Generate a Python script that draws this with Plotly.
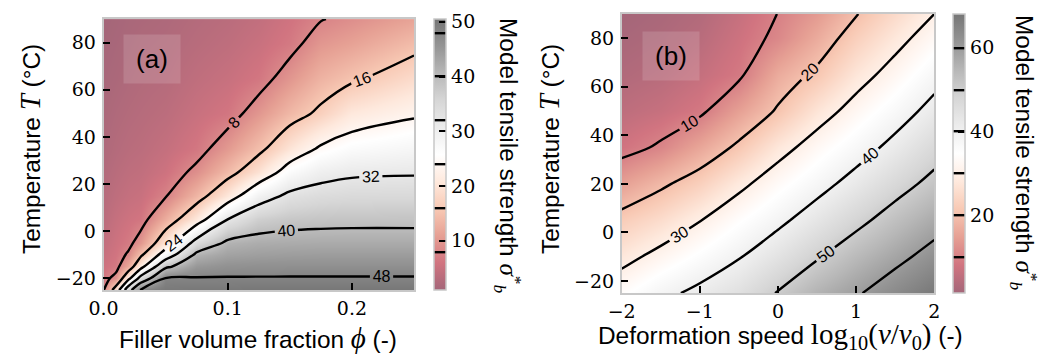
import plotly.graph_objects as go

W, H = 1042, 356

# ---------------- Panel (a): strength vs filler fraction and temperature
phi = [0, 0.01, 0.02, 0.03, 0.05, 0.075, 0.1, 0.125, 0.15, 0.175, 0.2, 0.25]
temp_a = [-25, -20, -15, -10, -5, 5, 15, 25, 35, 50, 65, 80, 90]
sigma_a = [
    [7.7, 19.5, 37.0, 48.5, 50.0, 50.1, 50.2, 50.3, 50.3, 50.3, 50.3, 50.4],
    [6.6, 9.3, 22.0, 34.7, 48.2, 48.3, 48.3, 48.3, 48.3, 48.3, 48.3, 48.3],
    [5.5, 6.6, 12.0, 21.6, 38.7, 45.0, 46.0, 46.2, 46.3, 46.3, 46.3, 46.3],
    [4.9, 6.0, 8.6, 14.9, 27.6, 41.4, 43.6, 44.1, 44.3, 44.4, 44.4, 44.4],
    [4.3, 5.5, 6.8, 10.0, 20.3, 34.7, 41.2, 42.1, 42.3, 42.4, 42.4, 42.4],
    [3.5, 4.7, 5.6, 6.2, 12.6, 20.8, 32.0, 36.7, 38.0, 38.4, 38.6, 38.6],
    [3.0, 3.9, 4.6, 5.0, 7.7, 13.6, 20.7, 29.2, 33.2, 34.4, 34.9, 35.0],
    [2.6, 3.3, 3.9, 4.2, 5.6, 9.1, 14.1, 19.75, 26.8, 29.9, 31.1, 31.5],
    [2.2, 2.8, 3.3, 3.6, 4.6, 6.4, 10.3, 14.7, 20.2, 24.8, 26.9, 28.2],
    [1.8, 2.3, 2.7, 3.0, 3.6, 5.0, 6.2, 9.9, 13.8, 17.0, 20.8, 23.3],
    [1.5, 1.8, 2.2, 2.5, 2.9, 4.0, 4.9, 6.3, 9.8, 13.2, 15.2, 18.8],
    [1.2, 1.5, 1.8, 2.1, 2.4, 3.2, 3.9, 5.0, 6.6, 9.9, 11.2, 14.4],
    [1.0, 1.3, 1.6, 1.8, 2.1, 2.8, 3.4, 4.3, 5.8, 7.8, 9.0, 11.4],
]
levels_a = [8, 48, 8]            # start, end, step
cbar_ticks_a = [10, 20, 30, 40, 50]
crange_a = [1.0, 50.5]

# ---------------- Panel (b): strength vs deformation speed and temperature
speed = [-2, -1.5, -1, -0.5, 0, 0.5, 1, 1.5, 2]
temp_b = [-25, -10, 5, 20, 35, 50, 65, 80, 90]
sigma_b = [
    [34.0, 38.3, 41.6, 45.0, 50.4, 55.5, 59.3, 63.6, 67.6],
    [28.0, 31.9, 35.7, 39.6, 44.3, 49.4, 54.1, 58.2, 62.4],
    [22.2, 25.5, 29.8, 34.3, 38.5, 43.3, 48.2, 52.9, 57.2],
    [14.9, 18.9, 23.0, 28.5, 33.4, 37.7, 42.4, 47.4, 51.9],
    [8.0, 10.8, 15.8, 21.2, 27.7, 32.7, 37.1, 41.9, 47.1],
    [5.2, 6.6, 8.9, 14.9, 20.7, 27.2, 32.3, 37.0, 42.1],
    [3.4, 4.4, 6.3, 9.0, 16.7, 21.2, 27.5, 32.4, 37.6],
    [2.2, 3.0, 4.5, 7.5, 11.2, 16.6, 22.8, 28.0, 33.0],
    [1.5, 2.4, 3.6, 6.5, 10.1, 14.0, 19.7, 25.1, 30.0],
]
levels_b = [10, 60, 10]
cbar_ticks_b = [20, 40, 60]
crange_b = [1.5, 68.0]

xticks_a = [0, 0.1, 0.2]
xticks_b = [-2, -1, 0, 1, 2]
yticks = [-20, 0, 20, 40, 60, 80]

# RdGy colormap drawn with alpha 0.6 over white
RDGY = ['#67001f', '#b2182b', '#d6604d', '#f4a582', '#fddbc7', '#ffffff',
        '#e0e0e0', '#bababa', '#878787', '#4d4d4d', '#1a1a1a']
ALPHA = 0.6


def blended_scale(hexes, a):
    out = []
    n = len(hexes)
    for i, h in enumerate(hexes):
        r, g, b = (int(h[k:k + 2], 16) for k in (1, 3, 5))
        r, g, b = (round(a * c + (1 - a) * 255) for c in (r, g, b))
        out.append([i / (n - 1), f'rgb({r},{g},{b})'])
    return out


CS = blended_scale(RDGY, ALPHA)

SANS = 'Liberation Sans'
SERIF = 'DejaVu Serif'
MATH = "font-family:'Liberation Serif';font-size:29px"
MATH_B = "font-family:'Liberation Serif';font-size:29px"
MATH_CB = "font-family:'Liberation Serif';font-size:25px"
TITLE_SIZE = 24.4
TICK_SIZE = 19


def px_x(p):
    return p / W


def px_y(p):
    return 1 - p / H


# plot-area geometry (pixels)
A_L, A_R, A_T, A_B = 103.5, 414.0, 19.1, 290.1
B_L, B_R, B_T, B_B = 621.7, 934.3, 14.0, 293.1


def cbar(x_left, top, bottom, ticks):
    return dict(
        x=px_x(x_left), xanchor='left', xpad=0, thickness=12,
        thicknessmode='pixels', len=(bottom - top) / H, lenmode='fraction',
        y=px_y((top + bottom) / 2), yanchor='middle', ypad=0,
        tickvals=ticks, ticks='inside', ticklen=7, tickwidth=2,
        tickcolor='black', tickfont=dict(family=SERIF, size=TICK_SIZE, color='black'),
        outlinecolor='#c8c8c8', outlinewidth=1.5,
    )


LABEL_FONT = dict(family=SANS, size=16, color='black')

fig = go.Figure()

fig.add_trace(go.Contour(
    x=phi, y=temp_a, z=sigma_a, xaxis='x', yaxis='y',
    zmin=crange_a[0], zmax=crange_a[1], colorscale=CS,
    autocontour=False,
    contours=dict(start=levels_a[0], end=levels_a[1], size=levels_a[2],
                  coloring='heatmap', showlabels=True, labelfont=LABEL_FONT),
    line=dict(color='black', width=2.4, smoothing=1.1),
    colorbar=cbar(433.5, A_T, A_B, cbar_ticks_a),
    hoverinfo='skip',
))

fig.add_trace(go.Contour(
    x=speed, y=temp_b, z=sigma_b, xaxis='x2', yaxis='y2',
    zmin=crange_b[0], zmax=crange_b[1], colorscale=CS,
    autocontour=False,
    contours=dict(start=levels_b[0], end=levels_b[1], size=levels_b[2],
                  coloring='heatmap', showlabels=True, labelfont=LABEL_FONT),
    line=dict(color='black', width=2.4, smoothing=1.0),
    colorbar=cbar(953.0, B_T, B_B, cbar_ticks_b),
    hoverinfo='skip',
))

axis_common = dict(
    ticks='inside', ticklen=7, tickwidth=2, tickcolor='black',
    showline=True, mirror=True, linecolor='#c8c8c8', linewidth=1.5,
    showgrid=False, zeroline=False, automargin=False,
    tickfont=dict(family=SERIF, size=TICK_SIZE, color='black'),
)

fig.update_layout(
    width=W, height=H, margin=dict(l=0, r=0, t=0, b=0, pad=0, autoexpand=False),
    paper_bgcolor='white', plot_bgcolor='white',
    font=dict(family=SANS, size=TITLE_SIZE, color='black'),
    showlegend=False,
    xaxis=dict(domain=[px_x(A_L), px_x(A_R)], range=[0, 0.25], anchor='y',
               tickvals=xticks_a, ticktext=[f'{v:.1f}' for v in xticks_a],
               ticklabelstandoff=0, **axis_common),
    yaxis=dict(domain=[px_y(A_B), px_y(A_T)], range=[-25, 90], anchor='x',
               tickvals=yticks, ticklabelstandoff=2, **axis_common),
    xaxis2=dict(domain=[px_x(B_L), px_x(B_R)], range=[-2, 2], anchor='y2',
                tickvals=xticks_b, ticklabelstandoff=0, **axis_common),
    yaxis2=dict(domain=[px_y(B_B), px_y(B_T)], range=[-25, 90], anchor='x2',
                tickvals=yticks, ticklabelstandoff=2, **axis_common),
)

ann = []


def add_text(text, x, y, angle=0, size=TITLE_SIZE):
    ann.append(dict(text=text, x=px_x(x), y=px_y(y), xref='paper', yref='paper',
                    showarrow=False, textangle=angle, xanchor='center',
                    yanchor='middle', font=dict(family=SANS, size=size, color='black')))


T_MATH = f"<span style=\"{MATH}\"><i>T</i></span>"
add_text(f"Temperature {T_MATH} (°C)", 30, 149, angle=-90)
add_text(f"Temperature {T_MATH} (°C)", 549, 149, angle=-90)
add_text(f"Filler volume fraction <span style=\"{MATH}\"><i>ϕ</i></span> (-)", 258, 338)
add_text("Deformation speed "
         f"<span style=\"{MATH_B}\">log<sub>10</sub>(<i>v</i>/<i>v</i><sub>0</sub>)</span> (-)",
         780, 336)
CB_TITLE = ("Model tensile strength "
            f"<span style=\"{MATH_CB}\"><i>σ</i><sup>*</sup><sub><i>b</i></sub></span>")
add_text(CB_TITLE, 508, 156, angle=90)
add_text(CB_TITLE, 1024, 153, angle=90)

# panel letters on translucent boxes
for lab, cx, cy in (("(a)", 152, 59), ("(b)", 671, 56)):
    ann.append(dict(text=lab, x=px_x(cx), y=px_y(cy), xref='paper', yref='paper',
                    showarrow=False, xanchor='center', yanchor='middle',
                    width=56, height=48, borderpad=0,
                    bgcolor='rgba(255,255,255,0.14)',
                    font=dict(family=SANS, size=26, color='black')))

fig.update_layout(annotations=ann)

fig.write_html("out.html")
